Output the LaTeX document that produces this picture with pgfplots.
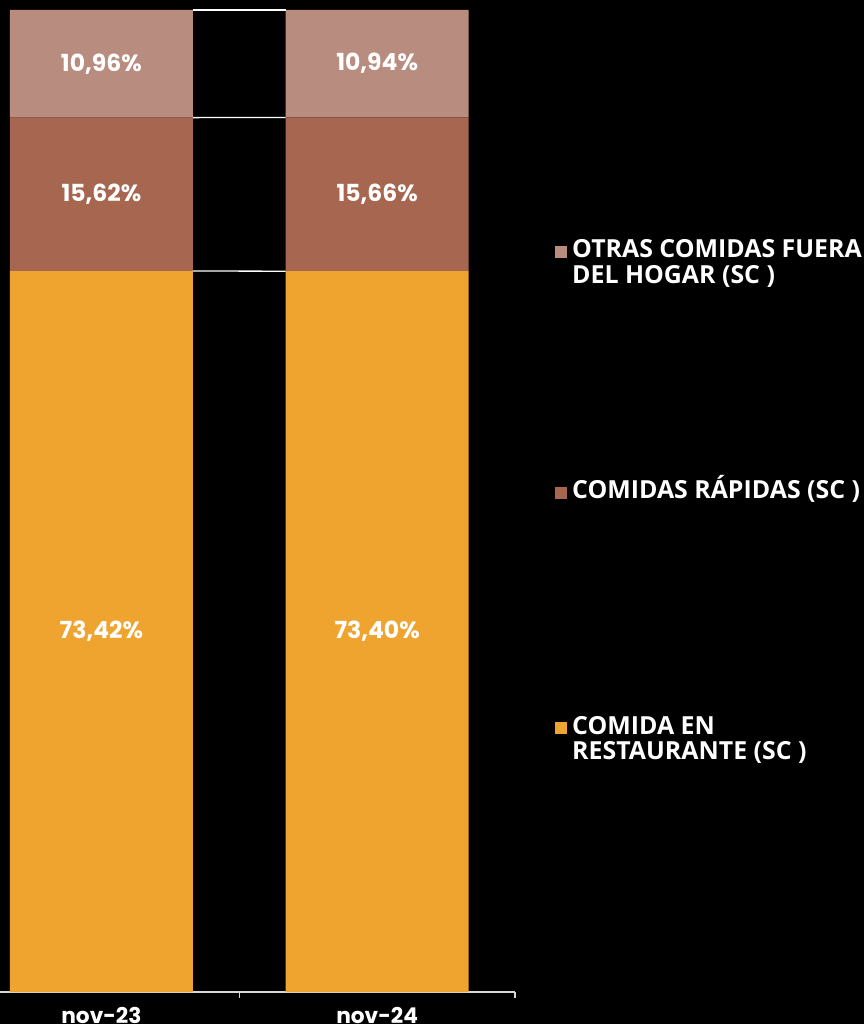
\documentclass[border=0pt]{standalone}
\usepackage{pgfplots}
\pgfplotsset{compat=1.18}
\usepackage{fontspec}
\newfontfamily\poppins{Poppins}
\newfontfamily\opensans{Open Sans}
\definecolor{cOrange}{RGB}{240,164,48}
\definecolor{cBrown}{RGB}{166,102,80}
\definecolor{cPink}{RGB}{185,140,128}
\definecolor{cAxis}{RGB}{215,215,215}
\begin{document}
\begin{tikzpicture}
\path[use as bounding box, fill=black] (0,-32bp) rectangle (864bp,992bp);
\clip (0,-32bp) rectangle (864bp,992bp);
\begin{axis}[
  at={(-36.5bp,0)}, anchor=south west,
  scale only axis, width=551.5bp, height=982bp,
  xmin=-0.5, xmax=1.5, ymin=0, ymax=100,
  ybar stacked, bar width=183bp,
  axis y line=none, axis x line*=bottom,
  x axis line style={draw=cAxis, line width=1.3bp, -},
  xtick={0,1}, xticklabels={nov-23,nov-24},
  major tick length=0pt,
  extra x ticks={0.5,1.5}, extra x tick labels={},
  extra x tick style={major tick length=6bp, tick align=outside, tick style={draw=cAxis, line width=1.3bp}},
  xticklabel style={font=\poppins\bfseries\fontsize{21.7bp}{24bp}\selectfont, text=white, yshift=-12bp},
  reverse legend,
  legend cell align=left,
  legend style={at={(1.0725,0.7659)}, anchor=north west, draw=none, fill=none,
    inner sep=0pt, outer sep=0pt, nodes={inner sep=0pt}, cells={anchor=base west},
    column sep=5.2bp, row sep=216bp,
    font=\opensans\bfseries\fontsize{24.9bp}{24.5bp}\selectfont, text=white},
]
\addplot[fill=cOrange, draw=none, legend image code/.code={\fill[cOrange] (0bp,0bp) rectangle (12bp,12bp);}]
  coordinates {(0,73.42) (1,73.40)};
\addlegendentry{\begin{tabular}[t]{@{}l@{}}COMIDA EN\\RESTAURANTE (SC )\end{tabular}}
\addplot[fill=cBrown, draw=none, legend image code/.code={\fill[cBrown] (0bp,0bp) rectangle (12bp,12bp);}]
  coordinates {(0,15.62) (1,15.66)};
\addlegendentry{\begin{tabular}[t]{@{}l@{}}COMIDAS RÁPIDAS (SC )\\\mbox{}\end{tabular}}
\addplot[fill=cPink, draw=none, legend image code/.code={\fill[cPink] (0bp,0bp) rectangle (12bp,12bp);}]
  coordinates {(0,10.96) (1,10.94)};
\addlegendentry{\begin{tabular}[t]{@{}l@{}}OTRAS COMIDAS FUERA\\DEL HOGAR (SC )\end{tabular}}
\end{axis}
\begin{axis}[
  at={(-36.5bp,0)}, anchor=south west,
  scale only axis, width=551.5bp, height=982bp,
  xmin=-0.5, xmax=1.5, ymin=0, ymax=100,
  axis lines=none, clip=false,
]
\addplot[white, line width=1.3bp] coordinates {(0.3318,73.42) (0.6682,73.40)};
\addplot[white, line width=1.3bp] coordinates {(0.3318,89.04) (0.6682,89.06)};
\addplot[white, line width=1.3bp] coordinates {(0.3318,100) (0.6682,100)};
\addplot[only marks, mark=none, nodes near coords, point meta=explicit symbolic,
  nodes near coords style={anchor=center, text=white, font=\poppins\bfseries\fontsize{23.5bp}{26bp}\selectfont}]
  coordinates {
  (0,36.71) [73,42\%]
  (1,36.70) [73,40\%]
  (0,81.23) [15,62\%]
  (1,81.23) [15,66\%]
  (0,94.52) [10,96\%]
  (1,94.53) [10,94\%]
  };
\end{axis}
\end{tikzpicture}
\end{document}
